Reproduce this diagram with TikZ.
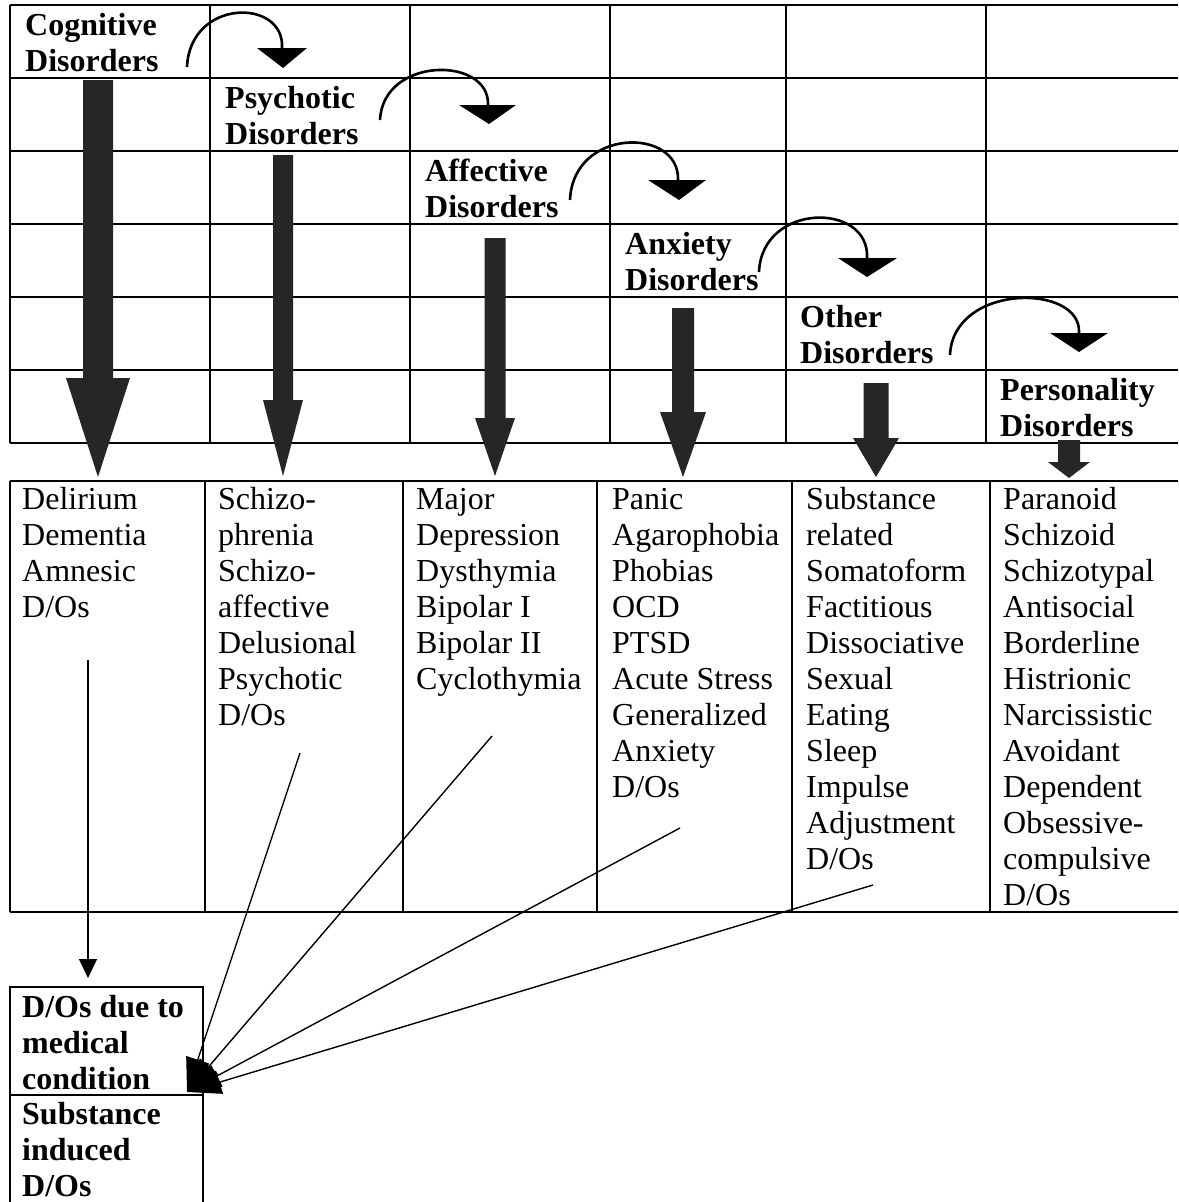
\documentclass[tikz,border=0pt]{standalone}
\usepackage{fontspec}
\setmainfont{Liberation Serif}
\usetikzlibrary{arrows.meta}
\newcommand\bigarr[6]{\fill[bigarrow] ({#1-#2},#3) -- ({#1+#2},#3) -- ({#1+#2},#4) -- ({#1+#5},#4) -- (#1,#6) -- ({#1-#5},#4) -- ({#1-#2},#4) -- cycle;}
\begin{document}
\begin{tikzpicture}[x=1pt,y=-1pt,
  gridline/.style={line width=1.4pt},
  heavyline/.style={line width=2.2pt},
  hdr/.style={anchor=north west,inner sep=0pt,align=left,font=\fontsize{32}{36}\selectfont\bfseries},
  lst/.style={anchor=north west,inner sep=0pt,align=left,font=\fontsize{32}{36}\selectfont},
  bigarrow/.style={fill=black!85},
  curvearr/.style={line width=2.6pt},
  headtri/.style={fill=black},
  thinarr/.style={line width=1.4pt},
]
\useasboundingbox (0,0) rectangle (1178,1202);
% top grid
\foreach \yy in {78,151,224,297,370,443} \draw[gridline] (10,\yy) -- (1178,\yy);
\draw[heavyline] (10,5) -- (1178,5);
\foreach \xx in {10,210,410,610,786,986} \draw[gridline] (\xx,5) -- (\xx,443);
% lower table
\draw[heavyline] (10,481) -- (1178,481);
\draw[gridline] (10,912) -- (1178,912);
\foreach \xx in {10,205,403,597,792,990} \draw[gridline] (\xx,481) -- (\xx,912);
% headers
\node[hdr] (cog) at (25,{35-25.2}) {\strut Cognitive\\Disorders};
\node[hdr] (psy) at (225,{108-25.2}) {\strut Psychotic\\Disorders};
\node[hdr] (aff) at (425,{181-25.2}) {\strut Affective\\Disorders};
\node[hdr] (anx) at (625,{254-25.2}) {\strut Anxiety\\Disorders};
\node[hdr] (oth) at (800,{327-25.2}) {\strut Other\\Disorders};
\node[hdr] (per) at (1000,{400-25.2}) {\strut Personality\\Disorders};
% curved arrows
\draw[curvearr] (187,67) .. controls (190,-2) and (285,-2) .. (282,48);
\fill[headtri] (257,48) -- (307,48) -- (283,68) -- cycle;
\draw[curvearr] (380,120) .. controls (383,56) and (490,56) .. (488,105);
\fill[headtri] (459,105) -- (516,105) -- (489,124) -- cycle;
\draw[curvearr] (570,200) .. controls (573,127) and (680,127) .. (678,180);
\fill[headtri] (648,180) -- (706,180) -- (679,200) -- cycle;
\draw[curvearr] (759,272) .. controls (762,202) and (870,202) .. (867,258);
\fill[headtri] (838,258) -- (897,258) -- (867,277) -- cycle;
\draw[curvearr] (950,355) .. controls (953,283) and (1082,283) .. (1079,333);
\fill[headtri] (1050,333) -- (1108,333) -- (1079,352) -- cycle;
% big vertical arrows
\bigarr{98}{15}{80}{378}{32}{477}
\bigarr{283}{10}{155}{400}{20}{476}
\bigarr{495}{10.5}{238}{418}{20}{476}
\bigarr{683}{11}{308}{412}{23}{477}
\bigarr{876}{12.5}{383}{438}{23}{477}
\bigarr{1069}{11}{440}{462}{21}{478}
% lists
\node[lst] (l1) at (22,{509-25.2}) {\strut Delirium\\Dementia\\Amnesic\\D/Os};
\node[lst] (l2) at (218,{509-25.2}) {\strut Schizo-\\phrenia\\Schizo-\\affective\\Delusional\\Psychotic\\D/Os};
\node[lst] (l3) at (416,{509-25.2}) {\strut Major\\Depression\\Dysthymia\\Bipolar I\\Bipolar II\\Cyclothymia};
\node[lst] (l4) at (612,{509-25.2}) {\strut Panic\\Agarophobia\\Phobias\\OCD\\PTSD\\Acute Stress\\Generalized\\Anxiety\\D/Os};
\node[lst] (l5) at (806,{509-25.2}) {\strut Substance\\related\\Somatoform\\Factitious\\Dissociative\\Sexual\\Eating\\Sleep\\Impulse\\Adjustment\\D/Os};
\node[lst] (l6) at (1003,{509-25.2}) {\strut Paranoid\\Schizoid\\Schizotypal\\Antisocial\\Borderline\\Histrionic\\Narcissistic\\Avoidant\\Dependent\\Obsessive-\\compulsive\\D/Os};
% bottom boxes
\draw[gridline] (10,987) rectangle (203,1095);
\draw[gridline] (10,1095) -- (10,1210);
\draw[gridline] (203,1095) -- (203,1210);
\node[hdr] (med) at (22,{1017-25.2}) {\strut D/Os due to\\medical\\condition};
\node[hdr] (sub) at (22,{1124-25.2}) {\strut Substance\\induced\\D/Os};
% thin arrows
\coordinate (s1) at (88,660);
\coordinate (e1) at (88,978);
\coordinate (s2) at (300,753);
\coordinate (s3) at (492,736);
\coordinate (s4) at (680,828);
\coordinate (s5) at (873,885);
\coordinate (hub) at (187,1092);
\draw[thinarr,-{Triangle[length=19pt,width=18pt]}] (s1) -- (e1);
\foreach \s in {s2,s3,s4,s5} \draw[thinarr,-{Triangle[length=34pt,width=24pt]}] (\s) -- (hub);
\end{tikzpicture}
\end{document}
